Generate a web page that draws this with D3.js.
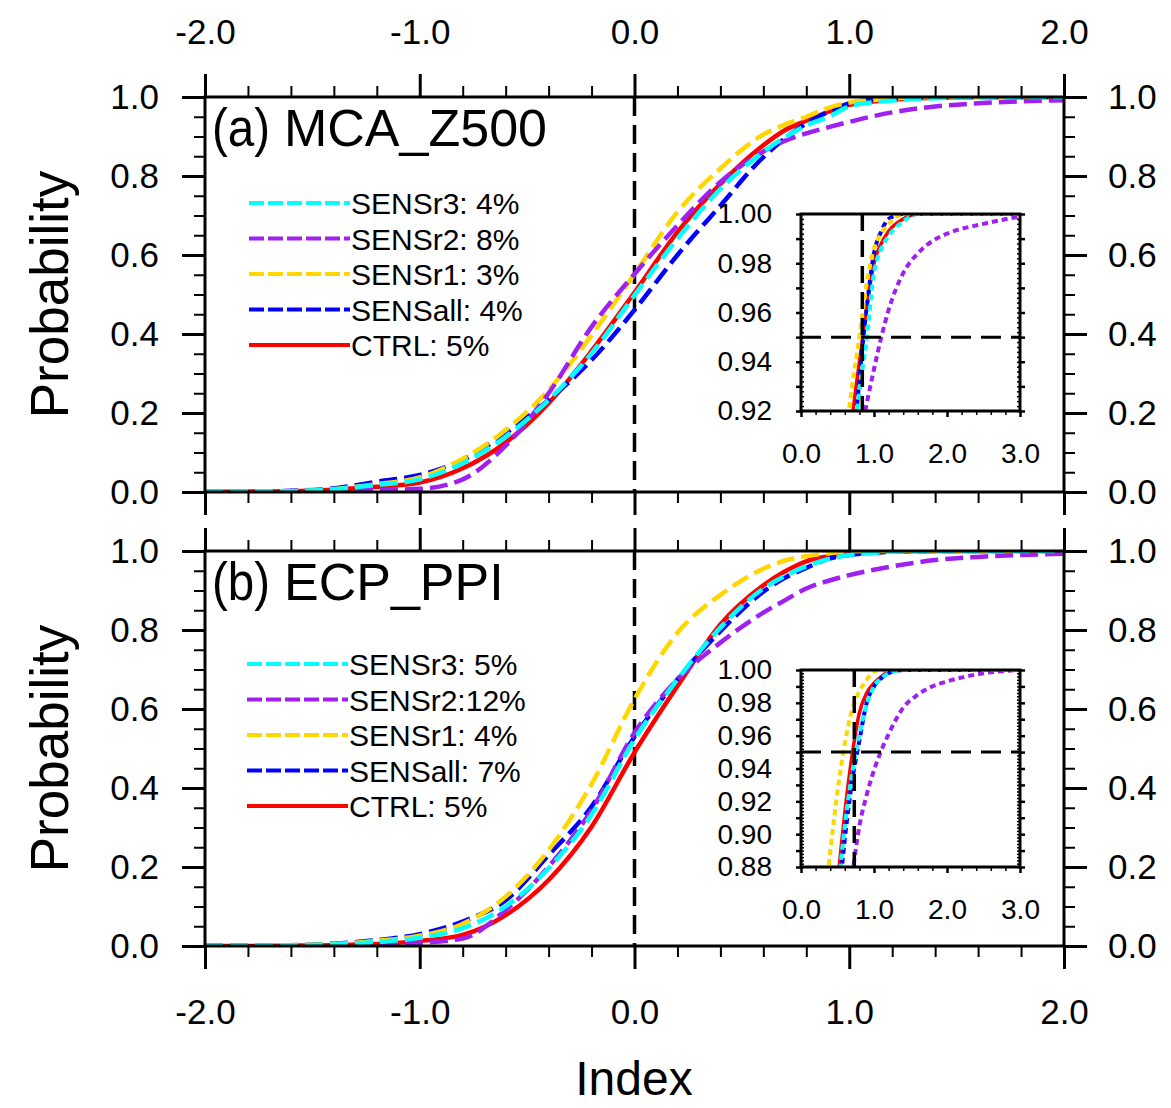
<!DOCTYPE html>
<html lang="en">
<head>
<meta charset="UTF-8">
<title>CDF of Index</title>
<script src="https://d3js.org/d3.v7.min.js"></script>
<style>
  body { margin: 0; background: #fff; }
  svg text { font-family: "Liberation Sans", Arial, Helvetica, sans-serif; fill: #000; }
</style>
</head>
<body>
<div id="chart"></div>
<script>
var xGrid = [-2.0, -1.8, -1.6, -1.4, -1.2, -1.0, -0.8, -0.6, -0.4, -0.2, 0.0, 0.2, 0.4, 0.6, 0.7, 0.8, 0.9, 1.0, 1.1, 1.2, 1.4, 1.6, 1.8, 2.0, 2.5, 3.0];

// (a) MCA_Z500
var ctrlA    = [0.000, 0.001, 0.002, 0.006, 0.013, 0.024, 0.060, 0.125, 0.225, 0.357, 0.505, 0.658, 0.780, 0.878, 0.916, 0.940, 0.962, 0.980, 0.988, 0.993, 0.998, 1.000, 1.000, 1.000, 1.000, 1.000];
var sensallA = [0.000, 0.001, 0.003, 0.009, 0.026, 0.043, 0.081, 0.149, 0.233, 0.334, 0.461, 0.600, 0.725, 0.848, 0.895, 0.933, 0.962, 0.984, 0.993, 0.998, 1.000, 1.000, 1.000, 1.000, 1.000, 1.000];
var sensr1A  = [0.000, 0.001, 0.002, 0.007, 0.020, 0.037, 0.084, 0.157, 0.258, 0.397, 0.552, 0.709, 0.819, 0.905, 0.930, 0.950, 0.972, 0.986, 0.992, 0.996, 1.000, 1.000, 1.000, 1.000, 1.000, 1.000];
var sensr2A  = [0.000, 0.000, 0.000, 0.002, 0.005, 0.008, 0.032, 0.117, 0.250, 0.418, 0.552, 0.675, 0.785, 0.862, 0.889, 0.908, 0.923, 0.937, 0.950, 0.961, 0.976, 0.984, 0.989, 0.992, 0.996, 0.999];
var sensr3A  = [0.000, 0.001, 0.002, 0.007, 0.018, 0.032, 0.073, 0.140, 0.233, 0.351, 0.498, 0.641, 0.767, 0.861, 0.898, 0.928, 0.949, 0.976, 0.986, 0.991, 0.997, 1.000, 1.000, 1.000, 1.000, 1.000];
var legendA  = ["SENSr3: 4%", "SENSr2: 8%", "SENSr1: 3%", "SENSall: 4%", "CTRL: 5%"];

// (b) ECP_PPI
var ctrlB    = [0.000, 0.000, 0.001, 0.002, 0.005, 0.013, 0.028, 0.078, 0.167, 0.302, 0.490, 0.658, 0.814, 0.913, 0.948, 0.974, 0.986, 0.992, 0.996, 0.999, 1.000, 1.000, 1.000, 1.000, 1.000, 1.000];
var sensallB = [0.000, 0.001, 0.002, 0.006, 0.015, 0.030, 0.062, 0.116, 0.230, 0.353, 0.530, 0.675, 0.797, 0.897, 0.932, 0.957, 0.980, 0.990, 0.995, 0.998, 1.000, 1.000, 1.000, 1.000, 1.000, 1.000];
var sensr1B  = [0.000, 0.001, 0.002, 0.005, 0.013, 0.026, 0.056, 0.125, 0.243, 0.410, 0.625, 0.793, 0.889, 0.955, 0.976, 0.987, 0.994, 0.999, 1.000, 1.000, 1.000, 1.000, 1.000, 1.000, 1.000, 1.000];
var sensr2B  = [0.000, 0.000, 0.000, 0.001, 0.003, 0.008, 0.019, 0.091, 0.201, 0.344, 0.540, 0.675, 0.768, 0.844, 0.875, 0.905, 0.924, 0.939, 0.951, 0.961, 0.977, 0.985, 0.990, 0.993, 0.998, 1.000];
var sensr3B  = [0.000, 0.000, 0.001, 0.004, 0.010, 0.021, 0.045, 0.100, 0.197, 0.332, 0.523, 0.675, 0.806, 0.905, 0.937, 0.961, 0.979, 0.990, 0.995, 0.998, 1.000, 1.000, 1.000, 1.000, 1.000, 1.000];
var legendB  = ["SENSr3: 5%", "SENSr2:12%", "SENSr1: 4%", "SENSall: 7%", "CTRL: 5%"];

// ticks
var xTicks = [-2, -1, 0, 1, 2];
var yTicks = [0, 0.2, 0.4, 0.6, 0.8, 1.0];
var insetXTicks = [0, 1, 2, 3];
var insetYLabelsA = [0.92, 0.94, 0.96, 0.98, 1.00];
var insetYLabelsB = [0.88, 0.90, 0.92, 0.94, 0.96, 0.98, 1.00];
// 95% crossing of CTRL (vertical line in insets)
var ctrl95 = [0.84, 0.73];

var seriesColor = ["#ff0000", "#0000ff", "#ffd700", "#a020f0", "#00ffff"]; // ctrl, all, r1, r2, r3

var W = 1171, H = 1108;
var L = 205, PW = 859, PH = 395;
var font = '"Liberation Sans", Arial, Helvetica, sans-serif';

var svg = d3.select("#chart").append("svg").attr("width", W).attr("height", H);

function styleAxis(g, size, width) {
    g.select(".domain").remove();
    g.selectAll(".tick line").attr("stroke", "#000").attr("stroke-width", width);
    g.selectAll("text").attr("font-size", size).attr("font-family", font).attr("fill", "#000");
    g.attr("font-family", null).attr("font-size", null);
}

function fmt1(d) { return d.toFixed(1); }

function drawPanel(id, top, series, legend, labelsTop, labelsBottom, legX, legY0) {
    var g = svg.append("g").attr("transform", "translate(" + L + "," + top + ")");
    var x = d3.scaleLinear().domain([-2, 2]).range([0, PW]);
    var y = d3.scaleLinear().domain([0, 1]).range([PH, 0]);

    g.append("clipPath").attr("id", "clip" + id)
        .append("rect").attr("width", PW).attr("height", PH);

    // x = 0 reference
    g.append("line")
        .attr("x1", x(0)).attr("x2", x(0)).attr("y1", 0).attr("y2", PH)
        .attr("stroke", "#000").attr("stroke-width", 3.5).attr("stroke-dasharray", "19,9");

    var line = d3.line()
        .x((d, i) => x(xGrid[i]))
        .y(d => y(d))
        .curve(d3.curveMonotoneX);

    var lines = g.append("g").attr("clip-path", "url(#clip" + id + ")");
    series.forEach(function (s, k) {
        lines.append("path")
            .attr("d", line(s))
            .attr("fill", "none")
            .attr("stroke", seriesColor[k])
            .attr("stroke-width", 4.5)
            .attr("stroke-dasharray", k == 0 ? null : "18,7");
    });

    g.append("rect").attr("width", PW).attr("height", PH)
        .attr("fill", "none").attr("stroke", "#000").attr("stroke-width", 3);

    var minorX = d3.range(-20, 21, 2).filter(v => v % 10 != 0).map(v => v / 10);
    var minorY = d3.range(0, 21).filter(v => v % 4 != 0).map(v => v / 20);

    styleAxis(g.append("g").call(d3.axisTop(x).tickValues(xTicks).tickSize(23).tickPadding(30)
        .tickFormat(labelsTop ? fmt1 : () => "")), 35, 3);
    styleAxis(g.append("g").call(d3.axisTop(x).tickValues(minorX).tickSize(11).tickFormat("")), 35, 2);
    styleAxis(g.append("g").attr("transform", "translate(0," + PH + ")")
        .call(d3.axisBottom(x).tickValues(xTicks).tickSize(23).tickPadding(30)
        .tickFormat(labelsBottom ? fmt1 : () => "")), 35, 3);
    styleAxis(g.append("g").attr("transform", "translate(0," + PH + ")")
        .call(d3.axisBottom(x).tickValues(minorX).tickSize(11).tickFormat("")), 35, 2);

    styleAxis(g.append("g").call(d3.axisLeft(y).tickValues(yTicks).tickSize(23).tickPadding(23).tickFormat(fmt1)), 35, 3);
    styleAxis(g.append("g").call(d3.axisLeft(y).tickValues(minorY).tickSize(11).tickFormat("")), 35, 2);
    styleAxis(g.append("g").attr("transform", "translate(" + PW + ",0)")
        .call(d3.axisRight(y).tickValues(yTicks).tickSize(23).tickPadding(21).tickFormat(fmt1)), 35, 3);
    styleAxis(g.append("g").attr("transform", "translate(" + PW + ",0)")
        .call(d3.axisRight(y).tickValues(minorY).tickSize(11).tickFormat("")), 35, 2);

    // panel title, the letter part is narrower in the original
    g.append("text").attr("transform", "translate(7,49) scale(0.88,1)")
        .attr("font-size", 54).text("(" + id + ")");
    g.append("text").attr("x", 79).attr("y", 49)
        .attr("font-size", 52).text(id == "a" ? "MCA_Z500" : "ECP_PPI");

    // legend, SENSr3 on top, CTRL at the bottom
    var order = [4, 3, 2, 1, 0];
    order.forEach(function (k, r) {
        var ly = legY0 + r * 35.5;
        svg.append("line")
            .attr("x1", legX - 101).attr("x2", legX).attr("y1", ly).attr("y2", ly)
            .attr("stroke", seriesColor[k]).attr("stroke-width", 4)
            .attr("stroke-dasharray", k == 0 ? null : "15,4");
        svg.append("text").attr("x", legX + 1).attr("y", ly + 11)
            .attr("font-size", 30).text(legend[r]);
    });

    // y title
    svg.append("text")
        .attr("transform", "translate(68," + (top + PH / 2) + ") rotate(-90)")
        .attr("text-anchor", "middle").attr("font-size", 53).text("Probability");
}

function drawInset(id, top, series, yLabels, vx) {
    var iw = 219, ih = 197, il = 801;
    var yMin = yLabels[0];
    var g = svg.append("g").attr("transform", "translate(" + il + "," + top + ")");
    var x = d3.scaleLinear().domain([0, 3]).range([0, iw]);
    var y = d3.scaleLinear().domain([yMin, 1]).range([ih, 0]);

    g.append("rect").attr("width", iw).attr("height", ih).attr("fill", "#fff");
    g.append("clipPath").attr("id", "iclip" + id)
        .append("rect").attr("width", iw).attr("height", ih);

    var line = d3.line()
        .x((d, i) => x(xGrid[i]))
        .y(d => y(d))
        .curve(d3.curveMonotoneX);

    var lines = g.append("g").attr("clip-path", "url(#iclip" + id + ")");
    series.forEach(function (s, k) {
        lines.append("path")
            .attr("d", line(s))
            .attr("fill", "none")
            .attr("stroke", seriesColor[k])
            .attr("stroke-width", k == 0 ? 3.5 : 4)
            .attr("stroke-dasharray", k == 0 ? null : "6,4");
    });

    g.append("line")
        .attr("x1", x(vx)).attr("x2", x(vx)).attr("y1", 0).attr("y2", ih)
        .attr("stroke", "#000").attr("stroke-width", 3.5).attr("stroke-dasharray", "17,9");
    g.append("line")
        .attr("x1", 0).attr("x2", iw).attr("y1", y(0.95)).attr("y2", y(0.95))
        .attr("stroke", "#000").attr("stroke-width", 3).attr("stroke-dasharray", "20,10");

    g.append("rect").attr("width", iw).attr("height", ih)
        .attr("fill", "none").attr("stroke", "#000").attr("stroke-width", 3);

    var nMaj = Math.round((1 - yMin) * 100);
    var majY = d3.range(0, nMaj + 1).map(v => yMin + v / 100);
    var nMin = Math.round((1 - yMin) * 500);
    var minY = d3.range(0, nMin + 1).map(v => yMin + v / 500);
    var minX = d3.range(0, 16).filter(v => v % 5 != 0).map(v => v / 5);

    var lab = function (d) {
        return yLabels.some(v => Math.abs(v - d) < 1e-6) ? d.toFixed(2) : "";
    };
    styleAxis(g.append("g").call(d3.axisLeft(y).tickValues(majY).tickSize(5).tickPadding(24).tickFormat(lab)), 28, 2.5);
    styleAxis(g.append("g").call(d3.axisLeft(y).tickValues(minY).tickSize(-3).tickFormat("")), 28, 1.5);
    styleAxis(g.append("g").attr("transform", "translate(" + iw + ",0)")
        .call(d3.axisRight(y).tickValues(majY).tickSize(5).tickFormat("")), 28, 2.5);
    styleAxis(g.append("g").attr("transform", "translate(" + iw + ",0)")
        .call(d3.axisRight(y).tickValues(minY).tickSize(-3).tickFormat("")), 28, 1.5);
    styleAxis(g.append("g").attr("transform", "translate(0," + ih + ")")
        .call(d3.axisBottom(x).tickValues(insetXTicks).tickSize(6).tickPadding(26).tickFormat(fmt1)), 28, 2.5);
    styleAxis(g.append("g").attr("transform", "translate(0," + ih + ")")
        .call(d3.axisBottom(x).tickValues(minX).tickSize(4).tickFormat("")), 28, 1.5);
}

var seriesA = [ctrlA, sensallA, sensr1A, sensr2A, sensr3A];
var seriesB = [ctrlB, sensallB, sensr1B, sensr2B, sensr3B];

drawPanel("a", 97, seriesA, legendA, true, false, 350, 203);
drawInset("a", 214, seriesA, insetYLabelsA, ctrl95[0]);
drawPanel("b", 551, seriesB, legendB, false, true, 348, 664);
drawInset("b", 670, seriesB, insetYLabelsB, ctrl95[1]);

svg.append("text").attr("x", 634).attr("y", 1095)
    .attr("text-anchor", "middle").attr("font-size", 48).text("Index");
</script>
</body>
</html>
